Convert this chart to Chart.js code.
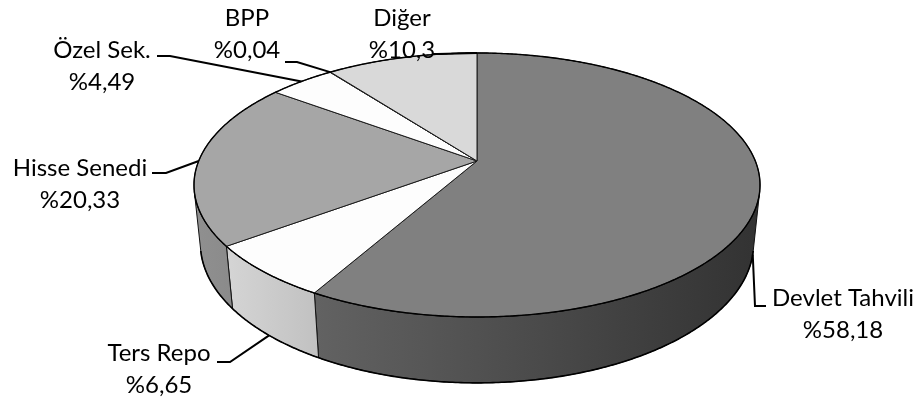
<!DOCTYPE html>
<html>
<head>
<meta charset="utf-8">
<script src="https://cdn.jsdelivr.net/npm/chart.js@4.4.1/dist/chart.umd.min.js"></script>
<style>
  html, body { margin: 0; padding: 0; background: #fff; }
  canvas { display: block; }
</style>
</head>
<body>
<canvas id="pie" width="924" height="403"></canvas>
<script>
// Portfolio breakdown (percent)
const categories = ['Devlet Tahvili', 'Ters Repo', 'Hisse Senedi', 'Özel Sek.', 'BPP', 'Diğer'];
const shares = [58.18, 6.65, 20.33, 4.49, 0.04, 10.3];
const faceColors = ['#808080', '#fdfdfd', '#a6a6a6', '#fdfdfd', '#e2e2e2', '#d9d9d9'];

// "%58,18" style labels, built from the same values as the slices
const shareText = shares.map(v => '%' + String(v).replace('.', ','));

// Tilted-disc projection used to draw the pie in 3D
const view = { cx: 477, cy: 161, s: 278.3, k: 0.2045, tilt: 27.3 * Math.PI / 180, depth: 0.238 };

// Label blocks and leader-line elbows
const labelLayout = [
  { x: 843, y: 298, elbow: [755, 306], tail: 766, anchor: 'mid' },
  { x: 159, y: 353, elbow: [230, 362], tail: 217, anchor: 'mid' },
  { x: 80,  y: 168, elbow: [166, 173], tail: 152, anchor: 'mid' },
  { x: 102, y: 50,  elbow: [170, 56],  tail: 157, anchor: 'mid' },
  { x: 247, y: 18,  elbow: [297, 62],  tail: 285, anchor: 'mid' },
  { x: 402, y: 18,  elbow: [437, 54],  tail: 433, anchor: 'end' }
];
const LINE_GAP = 32;
const LABEL_FONT = '24px Lato, "Open Sans", sans-serif';

function proj(theta, h) {
  const X = Math.sin(theta), Z = -Math.cos(theta), Y = -h * view.depth;
  const c = Math.cos(view.tilt), sn = Math.sin(view.tilt);
  const w = 1 - view.k * (Z * c + Y * sn);
  return [view.cx + view.s * X / w, view.cy + view.s * (Z * sn - Y * c) / w];
}

function shade(hex, f) {
  const n = parseInt(hex.slice(1), 16);
  const r = Math.round(((n >> 16) & 255) * f), g = Math.round(((n >> 8) & 255) * f), b = Math.round((n & 255) * f);
  return `rgb(${r},${g},${b})`;
}

function arcPoints(a0, a1, h) {
  const pts = [];
  const steps = Math.max(2, Math.ceil(Math.abs(a1 - a0) / (0.5 * Math.PI / 180)));
  for (let i = 0; i <= steps; i++) pts.push(proj(a0 + (a1 - a0) * i / steps, h));
  return pts;
}

const pie3d = {
  id: 'pie3d',
  beforeDatasetsDraw(chart) {
    const ctx = chart.ctx;
    const arcs = chart.getDatasetMeta(0).data;
    // angles clockwise from 12 o'clock
    const slices = arcs.map((a, i) => ({
      i, t0: a.startAngle + Math.PI / 2, t1: a.endAngle + Math.PI / 2
    }));
    const limit = -view.k / Math.cos(view.tilt);
    const fa = Math.acos(limit), fb = 2 * Math.PI - fa;
    const left = view.cx - view.s * 1.02, right = view.cx + view.s * 1.02;

    ctx.save();
    ctx.lineJoin = 'round';

    // side walls (front-facing part only)
    slices.forEach(sl => {
      const lo = Math.max(sl.t0, fa), hi = Math.min(sl.t1, fb);
      if (hi <= lo) return;
      const top = arcPoints(lo, hi, 0), bot = arcPoints(hi, lo, 1);
      const g = ctx.createLinearGradient(left, 0, right, 0);
      const base = faceColors[sl.i];
      g.addColorStop(0, shade(base, 0.87));
      g.addColorStop(0.5, shade(base, 0.63));
      g.addColorStop(1, shade(base, 0.39));
      ctx.beginPath();
      top.concat(bot).forEach((p, j) => j ? ctx.lineTo(p[0], p[1]) : ctx.moveTo(p[0], p[1]));
      ctx.closePath();
      ctx.fillStyle = g;
      ctx.fill();
      ctx.strokeStyle = '#111';
      ctx.lineWidth = 1;
      ctx.stroke();
    });

    // bottom rim
    ctx.beginPath();
    arcPoints(fa, fb, 1).forEach((p, j) => j ? ctx.lineTo(p[0], p[1]) : ctx.moveTo(p[0], p[1]));
    ctx.strokeStyle = '#000';
    ctx.lineWidth = 1.6;
    ctx.stroke();

    // top faces
    slices.forEach(sl => {
      ctx.beginPath();
      ctx.moveTo(view.cx, view.cy);
      arcPoints(sl.t0, sl.t1, 0).forEach(p => ctx.lineTo(p[0], p[1]));
      ctx.closePath();
      ctx.fillStyle = faceColors[sl.i];
      ctx.fill();
      ctx.strokeStyle = '#1a1a1a';
      ctx.lineWidth = 1;
      ctx.stroke();
    });

    // top rim
    ctx.beginPath();
    arcPoints(0, 2 * Math.PI, 0).forEach((p, j) => j ? ctx.lineTo(p[0], p[1]) : ctx.moveTo(p[0], p[1]));
    ctx.closePath();
    ctx.strokeStyle = '#000';
    ctx.lineWidth = 1.4;
    ctx.stroke();

    // labels with leader lines
    ctx.font = LABEL_FONT;
    ctx.textAlign = 'center';
    ctx.textBaseline = 'middle';
    slices.forEach(sl => {
      const L = labelLayout[sl.i];
      let anchor;
      if (L.anchor === 'end') {
        anchor = proj(sl.t1, 0);
      } else {
        const tm = (sl.t0 + sl.t1) / 2;
        anchor = proj(tm, Math.cos(tm) < limit ? 1 : 0);
      }
      ctx.beginPath();
      ctx.moveTo(anchor[0], anchor[1]);
      ctx.lineTo(L.elbow[0], L.elbow[1]);
      ctx.lineTo(L.tail, L.elbow[1]);
      ctx.strokeStyle = '#000';
      ctx.lineWidth = 2;
      ctx.lineJoin = 'miter';
      ctx.stroke();
      ctx.fillStyle = '#000';
      ctx.fillText(categories[sl.i], L.x, L.y);
      ctx.fillText(shareText[sl.i], L.x, L.y + LINE_GAP);
    });

    ctx.restore();
    return false;
  }
};

new Chart(document.getElementById('pie'), {
  type: 'pie',
  data: {
    labels: categories,
    datasets: [{ data: shares, backgroundColor: faceColors, borderWidth: 0 }]
  },
  options: {
    responsive: false,
    devicePixelRatio: 1,
    animation: false,
    plugins: { legend: { display: false }, tooltip: { enabled: false } }
  },
  plugins: [pie3d]
});
</script>
</body>
</html>
